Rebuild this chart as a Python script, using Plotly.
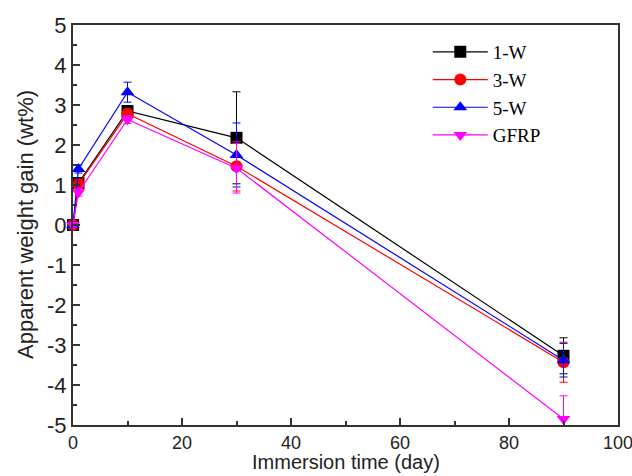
import plotly.graph_objects as go

days = [0, 1, 10, 30, 90]
w1 = [0, 1.05, 2.85, 2.18, -3.27]
w1_err = [0.05, 0.1, 0.12, 1.15, 0.45]
w3 = [0, 1.02, 2.78, 1.47, -3.43]
w3_err = [0.05, 0.1, 0.12, 0.62, 0.5]
w5 = [0, 1.4, 3.32, 1.75, -3.38]
w5_err = [0.05, 0.1, 0.25, 0.8, 0.42]
gfrp = [0, 0.82, 2.64, 1.42, -4.85]
gfrp_err = [0.05, 0.1, 0.1, 0.62, 0.58]

y_ticks = [-5, -4, -3, -2, -1, 0, 1, 2, 3, 4, 5]
y_ticktext = ["-5", "-4", "-3", "-2", "-1", "0", "1", "2", "3", "4", "5"]
x_ticks = [0, 20, 40, 60, 80, 100]
x_title = "Immersion time (day)"
y_title = "Apparent weight gain (wt%)"

series = [
    ("1-W", w1, w1_err, "black", "square"),
    ("3-W", w3, w3_err, "red", "circle"),
    ("5-W", w5, w5_err, "blue", "triangle-up"),
    ("GFRP", gfrp, gfrp_err, "magenta", "triangle-down"),
]

fig = go.Figure()
for name, vals, errs, col, sym in series:
    fig.add_trace(go.Scatter(
        x=days, y=vals, name=name, mode="lines+markers",
        line=dict(color=col, width=1.2),
        marker=dict(symbol=sym, size=12, color=col),
        cliponaxis=False,
        error_y=dict(type="data", array=errs, visible=True, color=col,
                     thickness=1, width=4),
    ))

fig.update_layout(
    width=632, height=476,
    margin=dict(l=73, r=14, t=25, b=51),
    plot_bgcolor="white", paper_bgcolor="white",
    showlegend=True,
    legend=dict(x=0.651, y=0.98, xanchor="left", yanchor="top",
                font=dict(family="Liberation Serif", size=19, color="black"),
                bgcolor="rgba(0,0,0,0)", tracegroupgap=0, itemwidth=55),
    font=dict(family="Liberation Sans", color="black"),
    annotations=[
        dict(text=x_title, xref="paper", yref="paper", x=0.5, y=0,
             xanchor="center", yanchor="middle", yshift=-37, showarrow=False,
             font=dict(size=20, color="#222")),
        dict(text=y_title, xref="paper", yref="paper", x=0, y=0.5,
             xanchor="center", yanchor="middle", xshift=-48, textangle=-90,
             showarrow=False, font=dict(size=22, color="#222")),
    ],
)
fig.update_xaxes(
    range=[0, 100], tickvals=x_ticks, automargin=False,
    ticks="inside", ticklen=7, tickwidth=1.5, tickcolor="#333",
    minor=dict(ticks="inside", ticklen=4, dtick=10, tickcolor="#333", tickwidth=1.5),
    showline=True, linecolor="#333", linewidth=2, mirror=True,
    showgrid=False, zeroline=False, ticklabeloverflow="allow",
    tickfont=dict(size=18, color="#222"),
)
fig.update_yaxes(
    range=[-5, 5], tickvals=y_ticks, ticktext=y_ticktext, automargin=False,
    ticks="inside", ticklen=7, tickwidth=1.5, tickcolor="#333",
    minor=dict(ticks="inside", ticklen=4, tickvals=[-4.5, -3.5, -2.5, -1.5, -0.5, 0.5, 1.5, 2.5, 3.5, 4.5],
               tickcolor="#333", tickwidth=1.5),
    showline=True, linecolor="#333", linewidth=2, mirror=True,
    showgrid=False, zeroline=False, ticklabeloverflow="allow",
    tickfont=dict(size=22, color="#222"),
)

fig.write_html("out.html")
